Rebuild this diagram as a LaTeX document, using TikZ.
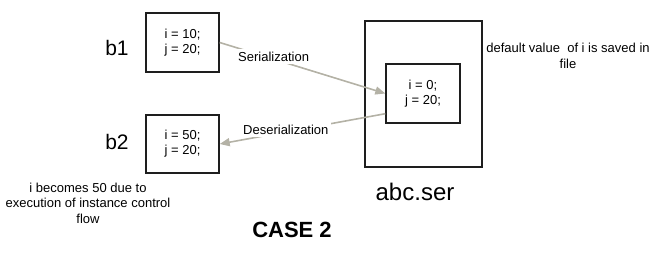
\documentclass[tikz,border=0pt]{standalone}
\usepackage{fontspec}
\setmainfont{Liberation Sans}
\usetikzlibrary{arrows.meta,calc}

\definecolor{flowgray}{RGB}{180,178,166}
\definecolor{boxline}{RGB}{30,30,30}

\tikzset{
  objbox/.style={draw=boxline, line width=1.4pt, inner sep=0pt, align=center,
    font=\fontsize{13}{15}\selectfont},
  flow/.style={draw=flowgray, line width=1.6pt,
    -{Triangle[length=10pt,width=8pt]}},
  flowlabel/.style={fill=white, inner sep=3pt, anchor=base west,
    font=\fontsize{13}{15}\selectfont},
  note/.style={align=center, font=\fontsize{13}{15.5}\selectfont},
  objname/.style={anchor=base, font=\fontsize{21}{24}\selectfont},
}

\begin{document}
\begin{tikzpicture}[x=1pt, y=-1pt]
  \useasboundingbox (0,0) rectangle (660,257);

  % objects in memory
  \node[objbox, minimum width=73pt, minimum height=59pt] (b1box) at (182.5,42.5) {i = 10;\\j = 20;};
  \node[objbox, minimum width=73pt, minimum height=58pt] (b2box) at (182.5,144) {i = 50;\\j = 20;};
  \node[objname] (b1) at (117,55) {b1};
  \node[objname] (b2) at (117,149) {b2};

  % serialized file with its stored object
  \node[draw=boxline, line width=1.4pt, minimum width=117pt, minimum height=146pt, inner sep=0pt] (file) at (423.5,94) {};
  \node[objbox, minimum width=74pt, minimum height=59pt] (inner) at (423,93.5) {i = 0;\\j = 20;};
  \node[anchor=base, font=\fontsize{24}{28}\selectfont] (fname) at (415,200) {abc.ser};

  % serialization / deserialization flows
  \draw[flow] (b1box.east) -- (inner.west);
  \draw[flow] ($(inner.south west)+(0,-10)$) -- (b2box.east);
  \node[flowlabel] (ser) at (235,61) {Serialization};
  \node[flowlabel] (deser) at (240,134) {Deserialization};

  % notes (base anchor sits on the last line)
  \node[note, anchor=base] (fnote) at (568,68) {default value\ \ of i is saved in\\file};
  \node[note, anchor=base] (bnote) at (88,223) {i becomes 50 due to\\execution of instance control\\flow};
  \node[anchor=base, font=\bfseries\fontsize{22}{26}\selectfont] (case) at (292,237) {CASE 2};
\end{tikzpicture}
\end{document}
